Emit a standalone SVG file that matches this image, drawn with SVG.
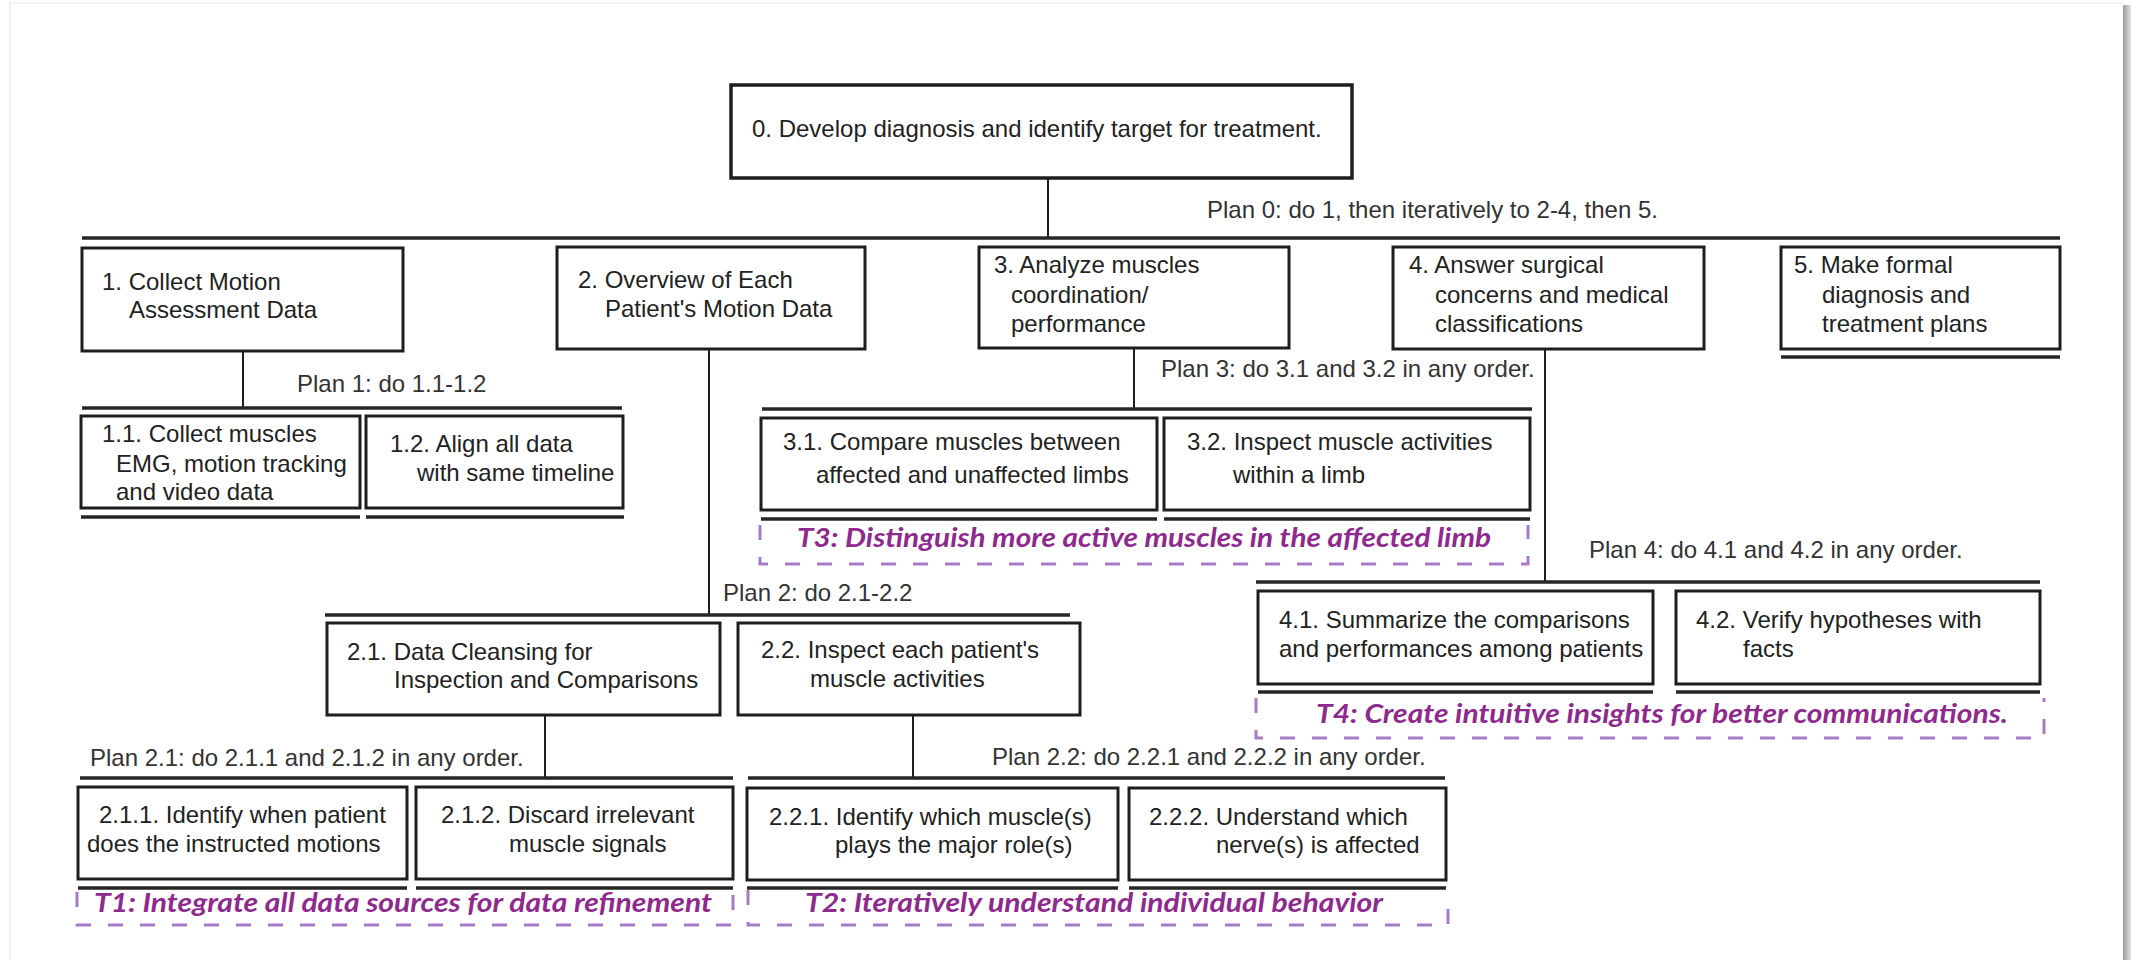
<svg xmlns="http://www.w3.org/2000/svg" width="2131" height="960" viewBox="0 0 2131 960">
<defs>
<linearGradient id="shadow" x1="0" y1="0" x2="1" y2="0">
<stop offset="0" stop-color="#9a9a9a"/>
<stop offset="1" stop-color="#e6e6e6"/>
</linearGradient>
</defs>
<style>
.box{fill:#fff;stroke:#1e1e1e;stroke-width:3}
.root{fill:#fff;stroke:#1e1e1e;stroke-width:3.5}
.bar{stroke:#262626;stroke-width:3.5;fill:none}
.ul{stroke:#262626;stroke-width:3.5;fill:none}
.con{stroke:#1e1e1e;stroke-width:2;fill:none}
.t{font-family:"Liberation Sans",Arial,sans-serif;font-size:24px;fill:#222}
.p{font-family:"Liberation Sans",Arial,sans-serif;font-size:24px;fill:#333}
.goal{fill:none;stroke:#a57cc4;stroke-width:3;stroke-dasharray:15 17}
.gt{font-family:Lato,"Open Sans",sans-serif;font-size:26px;font-weight:700;font-style:italic;fill:#8e2a8e}
</style>
<rect x="0" y="0" width="2131" height="960" fill="#fff"/>
<g id="frame">
<line x1="9" y1="3" x2="2123" y2="3" stroke="#eeeeee" stroke-width="1.5"/>
<line x1="10" y1="3" x2="10" y2="960" stroke="#eeeeee" stroke-width="1.5"/>
<rect x="2123" y="5" width="8" height="955" fill="url(#shadow)"/>
</g>
<g id="connectors">
<line class="con" x1="1048" y1="178" x2="1048" y2="238"/>
<line class="bar" x1="82" y1="238" x2="2060" y2="238"/>
<line class="con" x1="243" y1="351" x2="243" y2="408"/>
<line class="bar" x1="82" y1="408" x2="622" y2="408"/>
<line class="con" x1="709" y1="349" x2="709" y2="615"/>
<line class="bar" x1="325" y1="615" x2="1070" y2="615"/>
<line class="con" x1="1134" y1="348" x2="1134" y2="409"/>
<line class="bar" x1="762" y1="409" x2="1532" y2="409"/>
<line class="con" x1="1545" y1="349" x2="1545" y2="582"/>
<line class="bar" x1="1256" y1="582" x2="2040" y2="582"/>
<line class="con" x1="545" y1="715" x2="545" y2="778"/>
<line class="bar" x1="80" y1="778" x2="733" y2="778"/>
<line class="con" x1="913" y1="715" x2="913" y2="778"/>
<line class="bar" x1="748" y1="778" x2="1445" y2="778"/>
</g>
<g id="plans">
<text class="p" x="1207" y="218">Plan 0: do 1, then iteratively to 2-4, then 5.</text>
<text class="p" x="297" y="392">Plan 1: do 1.1-1.2</text>
<text class="p" x="723" y="601">Plan 2: do 2.1-2.2</text>
<text class="p" x="1161" y="377">Plan 3: do 3.1 and 3.2 in any order.</text>
<text class="p" x="1589" y="558">Plan 4: do 4.1 and 4.2 in any order.</text>
<text class="p" x="90" y="766">Plan 2.1: do 2.1.1 and 2.1.2 in any order.</text>
<text class="p" x="992" y="765">Plan 2.2: do 2.2.1 and 2.2.2 in any order.</text>
</g>
<g id="n0">
<rect class="root" x="731" y="85" width="621" height="93"/>
<text class="t" x="752" y="137">0. Develop diagnosis and identify target for treatment.</text>
</g>
<g id="n1">
<rect class="box" x="82" y="248" width="321" height="103"/>
<text class="t" x="102" y="290">1. Collect Motion</text>
<text class="t" x="129" y="318">Assessment Data</text>
</g>
<g id="n2">
<rect class="box" x="557" y="247" width="308" height="102"/>
<text class="t" x="578" y="288">2. Overview of Each</text>
<text class="t" x="605" y="317">Patient's Motion Data</text>
</g>
<g id="n3">
<rect class="box" x="979" y="247" width="310" height="101"/>
<text class="t" x="994" y="273">3. Analyze muscles</text>
<text class="t" x="1011" y="303">coordination/</text>
<text class="t" x="1011" y="332">performance</text>
</g>
<g id="n4">
<rect class="box" x="1393" y="247" width="311" height="102"/>
<text class="t" x="1409" y="273">4. Answer surgical</text>
<text class="t" x="1435" y="303">concerns and medical</text>
<text class="t" x="1435" y="332">classifications</text>
</g>
<g id="n5">
<rect class="box" x="1781" y="247" width="279" height="102"/>
<line class="ul" x1="1781" y1="357" x2="2060" y2="357"/>
<text class="t" x="1794" y="273">5. Make formal</text>
<text class="t" x="1822" y="303">diagnosis and</text>
<text class="t" x="1822" y="332">treatment plans</text>
</g>
<g id="n1_1">
<rect class="box" x="81" y="416" width="279" height="92"/>
<line class="ul" x1="81" y1="517" x2="360" y2="517"/>
<text class="t" x="102" y="442">1.1. Collect muscles</text>
<text class="t" x="116" y="472">EMG, motion tracking</text>
<text class="t" x="116" y="500">and video data</text>
</g>
<g id="n1_2">
<rect class="box" x="366" y="416" width="257" height="92"/>
<line class="ul" x1="366" y1="517" x2="624" y2="517"/>
<text class="t" x="390" y="452">1.2. Align all data</text>
<text class="t" x="417" y="481">with same timeline</text>
</g>
<g id="n2_1">
<rect class="box" x="327" y="623" width="393" height="92"/>
<text class="t" x="347" y="660">2.1. Data Cleansing for</text>
<text class="t" x="394" y="688">Inspection and Comparisons</text>
</g>
<g id="n2_2">
<rect class="box" x="738" y="623" width="342" height="92"/>
<text class="t" x="761" y="658">2.2. Inspect each patient's</text>
<text class="t" x="810" y="687">muscle activities</text>
</g>
<g id="n2_1_1">
<rect class="box" x="78" y="787" width="329" height="92"/>
<line class="ul" x1="78" y1="888" x2="407" y2="888"/>
<text class="t" x="99" y="823">2.1.1. Identify when patient</text>
<text class="t" x="87" y="852">does the instructed motions</text>
</g>
<g id="n2_1_2">
<rect class="box" x="416" y="787" width="317" height="92"/>
<line class="ul" x1="416" y1="888" x2="733" y2="888"/>
<text class="t" x="441" y="823">2.1.2. Discard irrelevant</text>
<text class="t" x="509" y="852">muscle signals</text>
</g>
<g id="n2_2_1">
<rect class="box" x="747" y="788" width="371" height="92"/>
<line class="ul" x1="747" y1="888" x2="1118" y2="888"/>
<text class="t" x="769" y="825">2.2.1. Identify which muscle(s)</text>
<text class="t" x="835" y="853">plays the major role(s)</text>
</g>
<g id="n2_2_2">
<rect class="box" x="1129" y="788" width="317" height="92"/>
<line class="ul" x1="1129" y1="888" x2="1446" y2="888"/>
<text class="t" x="1149" y="825">2.2.2. Understand which</text>
<text class="t" x="1216" y="853">nerve(s) is affected</text>
</g>
<g id="n3_1">
<rect class="box" x="761" y="418" width="396" height="92"/>
<line class="ul" x1="761" y1="519" x2="1157" y2="519"/>
<text class="t" x="783" y="450">3.1. Compare muscles between</text>
<text class="t" x="816" y="483">affected and unaffected limbs</text>
</g>
<g id="n3_2">
<rect class="box" x="1164" y="418" width="366" height="92"/>
<line class="ul" x1="1164" y1="519" x2="1530" y2="519"/>
<text class="t" x="1187" y="450">3.2. Inspect muscle activities</text>
<text class="t" x="1233" y="483">within a limb</text>
</g>
<g id="n4_1">
<rect class="box" x="1258" y="591" width="395" height="93"/>
<line class="ul" x1="1258" y1="692" x2="1653" y2="692"/>
<text class="t" x="1279" y="628">4.1. Summarize the comparisons</text>
<text class="t" x="1279" y="657">and performances among patients</text>
</g>
<g id="n4_2">
<rect class="box" x="1676" y="591" width="364" height="93"/>
<line class="ul" x1="1676" y1="692" x2="2040" y2="692"/>
<text class="t" x="1696" y="628">4.2. Verify hypotheses with</text>
<text class="t" x="1743" y="657">facts</text>
</g>
<g id="T1">
<path class="goal" d="M77 892 V925 H733 V892"/>
<text class="gt" x="94" y="912" textLength="618" lengthAdjust="spacingAndGlyphs">T1: Integrate all data sources for data refinement</text>
</g>
<g id="T2">
<path class="goal" d="M748 890 V925 H1448 V905"/>
<text class="gt" x="805" y="912" textLength="578" lengthAdjust="spacingAndGlyphs">T2: Iteratively understand individual behavior</text>
</g>
<g id="T3">
<path class="goal" d="M760 525 V564 H1528 V525"/>
<text class="gt" x="797" y="547" textLength="694" lengthAdjust="spacingAndGlyphs">T3: Distinguish more active muscles in the affected limb</text>
</g>
<g id="T4">
<path class="goal" d="M1256 698 V738 H2044 V698"/>
<text class="gt" x="1316" y="723" textLength="692" lengthAdjust="spacingAndGlyphs">T4: Create intuitive insights for better communications.</text>
</g>
</svg>
